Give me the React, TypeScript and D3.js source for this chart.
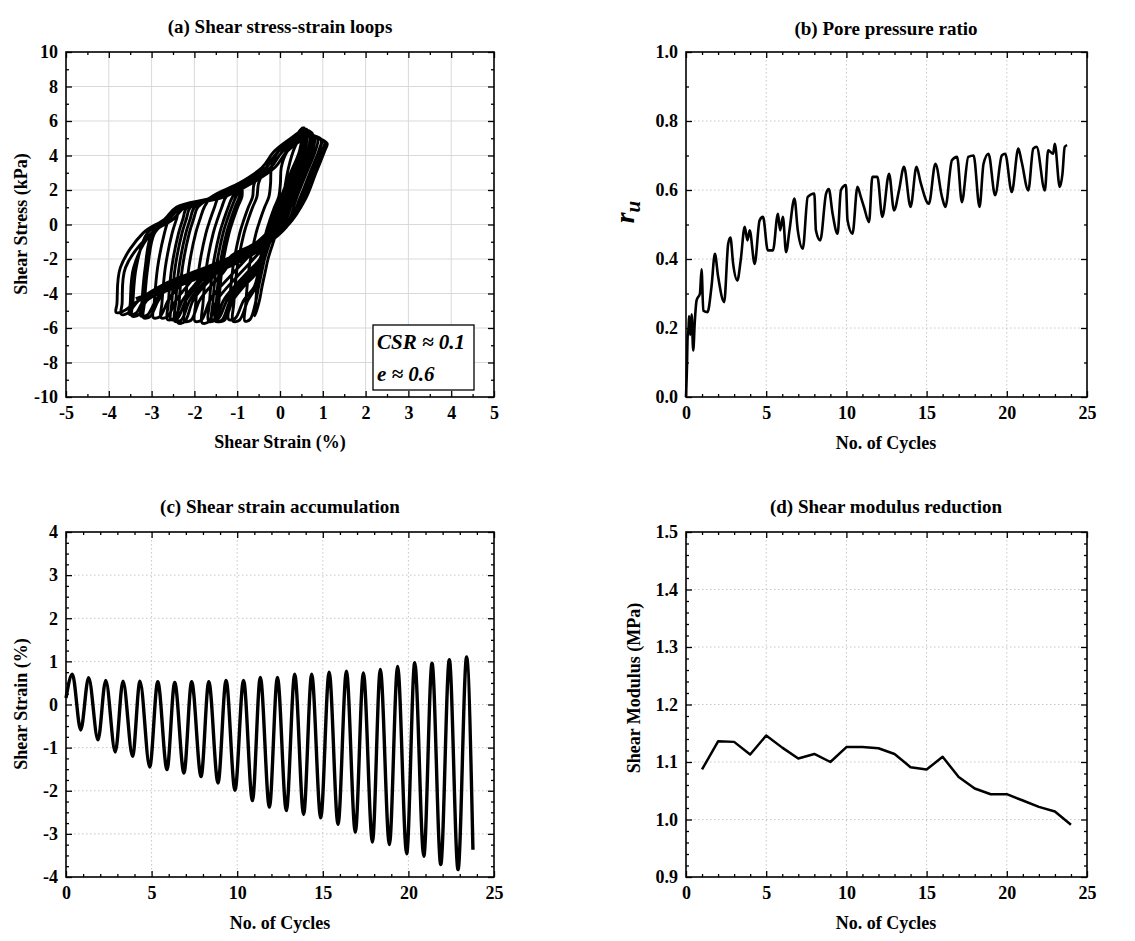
import React, { useRef, useEffect } from 'react';
import * as d3 from 'd3';

const FONT = '"Liberation Serif", "Times New Roman", serif';

// (a) stress-strain loops, [shear strain %, shear stress kPa], one row per loading cycle
const loopsEarly: [number, number][] = [
  [0, 0], [0.08, 1.6], [0.2, 3.3], [0.35, 4.5], [0.55, 5.3], [0.7, 5.3], [0.65, 4.3], [0.44, 3.0], [0.2, 1.5], [-0.02, 0], [-0.18, -1.2], [-0.28, -2.0], [-0.35, -2.8], [-0.42, -3.6], [-0.48, -4.4], [-0.59, -5.3],
  [-0.57, -4.6], [-0.49, -2.5], [-0.33, -0.5], [-0.23, 0.3], [-0.13, 1.0], [-0.03, 1.6], [0.01, 2.4], [0.03, 3.3], [0.16, 4.2], [0.41, 4.9], [0.55, 5.5], [0.62, 5.5], [0.57, 4.3], [0.36, 3.0], [0.12, 1.5], [-0.1, 0], [-0.26, -1.2], [-0.36, -2.0], [-0.43, -2.8], [-0.5, -3.6], [-0.56, -4.4], [-0.7, -5.5], [-0.82, -5.6],
  [-0.8, -4.6], [-0.72, -2.5], [-0.56, -0.5], [-0.46, 0.3], [-0.36, 1.0], [-0.26, 1.6], [-0.22, 2.4], [-0.2, 3.3], [-0.05, 4.2], [0.3, 4.9], [0.56, 5.6], [0.51, 4.3], [0.3, 3.0], [0.06, 1.5], [-0.16, 0], [-0.32, -1.2], [-0.42, -2.0], [-0.49, -2.8], [-0.56, -3.6], [-0.75, -4.4], [-0.95, -5.55], [-1.1, -5.6],
  [-1.08, -4.6], [-1.0, -2.5], [-0.84, -0.5], [-0.74, 0.3], [-0.64, 1.0], [-0.54, 1.6], [-0.5, 2.4], [-0.32, 3.3], [-0.05, 4.2], [0.3, 4.9], [0.54, 5.5], [0.49, 4.3], [0.28, 3.0], [0.04, 1.5], [-0.18, 0], [-0.34, -1.2], [-0.44, -2.0], [-0.51, -2.8], [-0.6, -3.6], [-0.85, -4.4], [-1.05, -5.45], [-1.2, -5.5],
  [-1.18, -4.6], [-1.1, -2.5], [-0.94, -0.5], [-0.84, 0.3], [-0.74, 1.0], [-0.64, 1.6], [-0.6, 2.4], [-0.32, 3.3], [-0.05, 4.2], [0.3, 4.9], [0.54, 5.6], [0.49, 4.3], [0.28, 3.0], [0.04, 1.5], [-0.18, 0], [-0.34, -1.2], [-0.44, -2.0], [-0.55, -2.8], [-0.85, -3.6], [-1.1, -4.4], [-1.3, -5.55], [-1.45, -5.6],
  [-1.43, -4.6], [-1.35, -2.5], [-1.19, -0.5], [-1.09, 0.3], [-0.99, 1.0], [-0.89, 1.6], [-0.85, 2.4], [-0.32, 3.3], [-0.05, 4.2], [0.3, 4.9], [0.53, 5.5], [0.48, 4.3], [0.27, 3.0], [0.03, 1.5], [-0.19, 0], [-0.35, -1.2], [-0.45, -2.0], [-0.61, -2.8], [-0.91, -3.6], [-1.16, -4.4], [-1.36, -5.55], [-1.51, -5.6],
  [-1.49, -4.6], [-1.41, -2.5], [-1.25, -0.5], [-1.15, 0.3], [-1.05, 1.0], [-0.95, 1.6], [-0.85, 2.4], [-0.32, 3.3], [-0.05, 4.2], [0.3, 4.9], [0.51, 5.5], [0.46, 4.3], [0.25, 3.0], [0.01, 1.5], [-0.21, 0], [-0.37, -1.2], [-0.47, -2.0], [-0.69, -2.8], [-0.99, -3.6], [-1.24, -4.4], [-1.44, -5.45], [-1.59, -5.5],
  [-1.57, -4.6], [-1.49, -2.5], [-1.33, -0.5], [-1.23, 0.3], [-1.13, 1.0], [-1.03, 1.6], [-0.85, 2.4], [-0.32, 3.3], [-0.05, 4.2], [0.3, 4.9], [0.53, 5.6], [0.48, 4.3], [0.27, 3.0], [0.03, 1.5], [-0.19, 0], [-0.35, -1.2], [-0.47, -2.0], [-0.77, -2.8], [-1.07, -3.6], [-1.32, -4.4], [-1.52, -5.55], [-1.67, -5.6],
];

const loopsMid: [number, number][] = [
  [-1.65, -4.6], [-1.57, -2.5], [-1.41, -0.5], [-1.31, 0.3], [-1.21, 1.0], [-1.11, 1.6], [-0.85, 2.4], [-0.32, 3.3], [-0.05, 4.2], [0.3, 4.9], [0.53, 5.5], [0.48, 4.3], [0.27, 3.0], [0.03, 1.5], [-0.19, 0], [-0.35, -1.2], [-0.62, -2.0], [-0.92, -2.8], [-1.22, -3.6], [-1.47, -4.4], [-1.67, -5.65], [-1.82, -5.7],
  [-1.8, -4.6], [-1.72, -2.5], [-1.56, -0.5], [-1.46, 0.3], [-1.36, 1.0], [-1.26, 1.6], [-0.85, 2.4], [-0.32, 3.3], [-0.05, 4.2], [0.3, 4.9], [0.56, 5.6], [0.51, 4.3], [0.3, 3.0], [0.06, 1.5], [-0.16, 0], [-0.49, -1.2], [-0.79, -2.0], [-1.09, -2.8], [-1.39, -3.6], [-1.64, -4.4], [-1.84, -5.55], [-1.99, -5.6],
  [-1.97, -4.6], [-1.89, -2.5], [-1.73, -0.5], [-1.63, 0.3], [-1.53, 1.0], [-1.43, 1.6], [-0.85, 2.4], [-0.32, 3.3], [-0.05, 4.2], [0.3, 4.9], [0.56, 5.5], [0.51, 4.3], [0.3, 3.0], [0.06, 1.5], [-0.16, 0], [-0.5, -0.95], [-1.03, -1.8], [-1.33, -2.8], [-1.63, -3.6], [-1.88, -4.4], [-2.08, -5.55], [-2.23, -5.6],
  [-2.21, -4.6], [-2.13, -2.5], [-1.97, -0.5], [-1.87, 0.3], [-1.77, 1.0], [-1.6, 1.6], [-0.95, 2.4], [-0.42, 3.3], [-0.15, 4.2], [0.2, 4.9], [0.55, 5.5], [0.63, 5.5], [0.58, 4.3], [0.37, 3.0], [0.13, 1.5], [-0.09, 0], [-0.5, -1.0], [-1.1, -1.75], [-1.48, -2.8], [-1.78, -3.6], [-2.03, -4.4], [-2.23, -5.65], [-2.38, -5.7],
  [-2.36, -4.6], [-2.28, -2.5], [-2.12, -0.5], [-2.02, 0.3], [-1.92, 1.0], [-1.6, 1.6], [-0.95, 2.4], [-0.42, 3.3], [-0.15, 4.2], [0.2, 4.9], [0.55, 5.45], [0.63, 5.4], [0.58, 4.3], [0.37, 3.0], [0.13, 1.5], [-0.09, 0], [-0.5, -0.95], [-1.1, -1.8], [-1.56, -2.8], [-1.86, -3.6], [-2.11, -4.4], [-2.31, -5.55], [-2.46, -5.6],
  [-2.44, -4.6], [-2.36, -2.5], [-2.2, -0.5], [-2.1, 0.3], [-2.0, 1.0], [-1.6, 1.6], [-0.95, 2.4], [-0.42, 3.3], [-0.15, 4.2], [0.2, 4.9], [0.55, 5.45], [0.7, 5.4], [0.65, 4.3], [0.44, 3.0], [0.2, 1.5], [-0.02, 0], [-0.5, -1.2], [-1.1, -2.0], [-1.65, -2.8], [-1.95, -3.6], [-2.2, -4.4], [-2.4, -5.45], [-2.55, -5.5],
  [-2.53, -4.6], [-2.45, -2.5], [-2.29, -0.5], [-2.19, 0.3], [-2.09, 1.0], [-1.5, 1.6], [-0.85, 2.4], [-0.32, 3.3], [-0.05, 4.2], [0.3, 4.9], [0.55, 5.4], [0.7, 5.3], [0.65, 4.3], [0.44, 3.0], [0.2, 1.5], [-0.02, 0], [-0.5, -1.2], [-1.1, -2.0], [-1.73, -2.8], [-2.03, -3.6], [-2.28, -4.4], [-2.48, -5.45], [-2.63, -5.5],
  [-2.61, -4.6], [-2.53, -2.5], [-2.37, -0.5], [-2.27, 0.3], [-2.17, 1.0], [-1.5, 1.6], [-0.85, 2.4], [-0.32, 3.3], [-0.05, 4.2], [0.3, 4.9], [0.55, 5.4], [0.75, 5.3], [0.7, 4.3], [0.49, 3.0], [0.25, 1.5], [0.03, 0], [-0.5, -1.2], [-1.1, -2.0], [-1.88, -2.8], [-2.18, -3.6], [-2.43, -4.4], [-2.63, -5.35], [-2.78, -5.4],
];

const loopsLate: [number, number][] = [
  [-2.76, -4.6], [-2.68, -2.5], [-2.52, -0.5], [-2.42, 0.3], [-2.32, 1.0], [-1.5, 1.6], [-0.85, 2.4], [-0.32, 3.3], [-0.05, 4.2], [0.3, 4.9], [0.55, 5.35], [0.77, 5.2], [0.72, 4.3], [0.51, 3.0], [0.27, 1.5], [0.05, 0], [-0.5, -1.2], [-1.1, -2.0], [-1.9, -2.8], [-2.36, -3.6], [-2.61, -4.4], [-2.81, -5.35], [-2.96, -5.4],
  [-2.94, -4.6], [-2.86, -2.5], [-2.7, -0.5], [-2.6, 0.3], [-2.42, 1.0], [-1.5, 1.6], [-0.85, 2.4], [-0.32, 3.3], [-0.05, 4.2], [0.3, 4.9], [0.55, 5.4], [0.73, 5.3], [0.68, 4.3], [0.47, 3.0], [0.23, 1.5], [0.01, 0], [-0.5, -1.45], [-1.1, -2.3], [-1.9, -3.05], [-2.59, -3.6], [-2.84, -4.4], [-3.04, -5.35], [-3.19, -5.4],
  [-3.17, -4.6], [-3.09, -2.5], [-2.93, -0.5], [-2.6, 0.3], [-2.32, 1.0], [-1.4, 1.6], [-0.75, 2.4], [-0.22, 3.3], [0.05, 4.2], [0.4, 4.9], [0.55, 5.3], [0.81, 5.1], [0.76, 4.3], [0.55, 3.0], [0.31, 1.5], [0.09, 0], [-0.5, -1.5], [-1.1, -2.35], [-1.9, -3.1], [-2.65, -3.6], [-2.9, -4.4], [-3.1, -5.25], [-3.25, -5.3],
  [-3.23, -4.6], [-3.15, -2.5], [-2.99, -0.5], [-2.6, 0.3], [-2.32, 1.0], [-1.4, 1.6], [-0.75, 2.4], [-0.22, 3.3], [0.05, 4.2], [0.4, 4.9], [0.6, 5.25], [0.88, 5.0], [0.83, 4.3], [0.62, 3.0], [0.38, 1.5], [0.16, 0], [-0.5, -1.4], [-1.1, -2.25], [-1.9, -3.05], [-2.7, -3.85], [-3.11, -4.4], [-3.31, -5.25], [-3.46, -5.3],
  [-3.44, -4.6], [-3.36, -2.5], [-3.1, -0.5], [-2.6, 0.3], [-2.32, 1.0], [-1.4, 1.6], [-0.75, 2.4], [-0.22, 3.3], [0.05, 4.2], [0.4, 4.9], [0.6, 5.2], [0.97, 4.9], [0.92, 4.3], [0.71, 3.0], [0.47, 1.5], [0.2, 0], [-0.5, -1.5], [-1.1, -2.3], [-1.9, -3.1], [-2.7, -3.9], [-3.17, -4.4], [-3.37, -5.15], [-3.52, -5.2],
  [-3.5, -4.6], [-3.42, -2.5], [-3.0, -0.5], [-2.5, 0.3], [-2.22, 1.0], [-1.3, 1.6], [-0.65, 2.4], [-0.12, 3.3], [0.15, 4.2], [0.5, 4.9], [0.65, 5.15], [0.96, 4.9], [0.91, 4.3], [0.7, 3.0], [0.46, 1.5], [0.2, 0], [-0.5, -1.1], [-1.1, -1.85], [-1.9, -2.65], [-2.7, -3.45], [-3.3, -4.4], [-3.56, -5.15], [-3.71, -5.2],
  [-3.69, -4.6], [-3.61, -2.5], [-3.0, -0.5], [-2.5, 0.3], [-2.22, 1.0], [-1.3, 1.6], [-0.65, 2.4], [-0.12, 3.3], [0.15, 4.2], [0.5, 4.9], [0.65, 5.1], [1.04, 4.8], [0.99, 4.3], [0.78, 3.0], [0.54, 1.5], [0.2, 0], [-0.5, -1.2], [-1.1, -2.0], [-1.9, -2.8], [-2.7, -3.6], [-3.3, -4.4], [-3.68, -5.05], [-3.83, -5.1],
  [-3.81, -4.6], [-3.73, -2.5], [-3.2, -0.5], [-2.7, 0.3], [-2.42, 1.0], [-1.5, 1.6], [-0.85, 2.4], [-0.32, 3.3], [-0.05, 4.2], [0.3, 4.9], [0.55, 5.2], [1.1, 4.7], [1.05, 4.3], [0.84, 3.0], [0.6, 1.5], [0.2, 0], [-0.5, -1.3], [-1.1, -2.1], [-1.9, -2.9], [-2.7, -3.7], [-3.37, -4.3],
];

// (b) pore pressure ratio vs number of cycles
const ruCycles = [0, 0.06, 0.1, 0.16, 0.19, 0.27, 0.35, 0.45, 0.55, 0.66, 0.87, 0.97, 1.08, 1.34, 1.59, 1.8, 2.0, 2.38, 2.63, 2.77, 2.94, 3.2, 3.41, 3.66, 3.83, 3.97, 4.28, 4.59, 4.8, 5.1, 5.42, 5.73, 5.87, 6.04, 6.24, 6.45, 6.76, 6.97, 7.28, 7.59, 8.0, 8.1, 8.37, 8.73, 8.9, 9.14, 9.45, 9.66, 9.97, 10.07, 10.38, 10.69, 10.9, 11.1, 11.41, 11.62, 11.93, 12.24, 12.66, 12.97, 13.28, 13.59, 14.0, 14.37, 14.62, 15.14, 15.55, 15.96, 16.17, 16.58, 16.9, 17.2, 17.6, 17.93, 18.3, 18.55, 18.86, 19.27, 19.69, 19.9, 20.31, 20.72, 20.93, 21.34, 21.65, 21.86, 22.37, 22.58, 22.89, 22.99, 23.3, 23.47, 23.61, 23.76];
const ruValues = [0, 0.087, 0.174, 0.2, 0.235, 0.18, 0.24, 0.135, 0.22, 0.28, 0.3, 0.37, 0.25, 0.246, 0.32, 0.415, 0.35, 0.275, 0.444, 0.462, 0.386, 0.338, 0.396, 0.493, 0.454, 0.483, 0.386, 0.512, 0.522, 0.425, 0.425, 0.531, 0.483, 0.522, 0.42, 0.483, 0.575, 0.483, 0.43, 0.58, 0.59, 0.483, 0.454, 0.589, 0.603, 0.531, 0.473, 0.6, 0.614, 0.512, 0.473, 0.609, 0.58, 0.55, 0.507, 0.638, 0.638, 0.522, 0.647, 0.541, 0.599, 0.667, 0.551, 0.667, 0.623, 0.56, 0.676, 0.58, 0.551, 0.686, 0.696, 0.565, 0.696, 0.7, 0.551, 0.676, 0.705, 0.585, 0.7, 0.705, 0.594, 0.72, 0.681, 0.599, 0.72, 0.725, 0.599, 0.715, 0.705, 0.734, 0.609, 0.647, 0.725, 0.73];

// (c) shear strain peaks and troughs vs number of cycles
const strainCycles = [0, 0.37, 0.86, 1.32, 1.87, 2.32, 2.88, 3.33, 3.89, 4.32, 4.89, 5.36, 5.9, 6.35, 6.89, 7.34, 7.89, 8.34, 8.88, 9.35, 9.87, 10.37, 10.89, 11.35, 11.88, 12.35, 12.87, 13.36, 13.88, 14.35, 14.88, 15.37, 15.89, 16.38, 16.9, 17.37, 17.9, 18.36, 18.89, 19.37, 19.9, 20.37, 20.9, 21.38, 21.89, 22.39, 22.9, 23.4, 23.77];
const strainValues = [0.15, 0.7, -0.59, 0.62, -0.82, 0.56, -1.1, 0.54, -1.2, 0.54, -1.45, 0.53, -1.51, 0.51, -1.59, 0.53, -1.67, 0.53, -1.82, 0.56, -1.99, 0.56, -2.23, 0.63, -2.38, 0.63, -2.46, 0.7, -2.55, 0.7, -2.63, 0.75, -2.78, 0.77, -2.96, 0.73, -3.19, 0.81, -3.25, 0.88, -3.46, 0.97, -3.52, 0.96, -3.71, 1.04, -3.83, 1.1, -3.37];

// (d) shear modulus per cycle
const modCycles = [1, 2, 3, 4, 5, 6, 7, 8, 9, 10, 11, 12, 13, 14, 15, 16, 17, 18, 19, 20, 21, 22, 23, 24];
const modValues = [1.087, 1.136, 1.135, 1.113, 1.146, 1.125, 1.106, 1.114, 1.1, 1.126, 1.126, 1.124, 1.114, 1.091, 1.087, 1.109, 1.074, 1.054, 1.044, 1.044, 1.033, 1.022, 1.014, 0.991];

// tick values
const strainTicksA = [-5, -4, -3, -2, -1, 0, 1, 2, 3, 4, 5];
const stressTicksA = [-10, -8, -6, -4, -2, 0, 2, 4, 6, 8, 10];
const cycleTicks = [0, 5, 10, 15, 20, 25];
const ruTicks = [0, 0.2, 0.4, 0.6, 0.8, 1.0];
const strainTicksC = [-4, -3, -2, -1, 0, 1, 2, 3, 4];
const modTicks = [0.9, 1.0, 1.1, 1.2, 1.3, 1.4, 1.5];

const titles = ['(a) Shear stress-strain loops', '(b) Pore pressure ratio', '(c) Shear strain accumulation', '(d) Shear modulus reduction'];

function minors(major: number[], step: number) {
  const lo = major[0], hi = major[major.length - 1];
  return d3.range(lo, hi + step / 2, step).filter(v => !major.some(m => Math.abs(m - v) < step / 10));
}

function panel(svg, box, xDom, yDom, o) {
  const w = box.right - box.left;
  const h = box.bottom - box.top;
  const x = d3.scaleLinear().domain(xDom).range([0, w]);
  const y = d3.scaleLinear().domain(yDom).range([h, 0]);
  const g = svg.append('g').attr('transform', `translate(${box.left},${box.top})`);
  const inside = (v, dom) => v > dom[0] + 1e-9 && v < dom[1] - 1e-9;

  // grid
  const gridColor = o.solidGrid ? '#d9d9d9' : '#c6c6c6';
  const dash = o.solidGrid ? null : '1.5,2.5';
  g.append('g').selectAll('line').data(o.xTicks.filter(v => inside(v, xDom))).join('line')
    .attr('x1', d => x(d)).attr('x2', d => x(d)).attr('y1', 0).attr('y2', h)
    .attr('stroke', gridColor).attr('stroke-width', 1).attr('stroke-dasharray', dash);
  g.append('g').selectAll('line').data(o.yTicks.filter(v => inside(v, yDom))).join('line')
    .attr('y1', d => y(d)).attr('y2', d => y(d)).attr('x1', 0).attr('x2', w)
    .attr('stroke', gridColor).attr('stroke-width', 1).attr('stroke-dasharray', dash);

  const none = () => '';
  const axes = g.append('g');
  axes.append('g').attr('transform', `translate(0,${h})`)
    .call(d3.axisBottom(x).tickValues(o.xTicks).tickSize(-6).tickPadding(9).tickFormat(o.xFmt));
  axes.append('g').attr('transform', `translate(0,${h})`)
    .call(d3.axisBottom(x).tickValues(o.xMinor).tickSize(-3).tickFormat(none));
  axes.append('g').call(d3.axisTop(x).tickValues(o.xTicks).tickSize(-6).tickFormat(none));
  axes.append('g').call(d3.axisTop(x).tickValues(o.xMinor).tickSize(-3).tickFormat(none));
  axes.append('g').call(d3.axisLeft(y).tickValues(o.yTicks).tickSize(-6).tickPadding(8).tickFormat(o.yFmt));
  axes.append('g').call(d3.axisLeft(y).tickValues(o.yMinor).tickSize(-3).tickFormat(none));
  axes.append('g').attr('transform', `translate(${w},0)`)
    .call(d3.axisRight(y).tickValues(o.yTicks).tickSize(-6).tickFormat(none));
  axes.append('g').attr('transform', `translate(${w},0)`)
    .call(d3.axisRight(y).tickValues(o.yMinor).tickSize(-3).tickFormat(none));
  axes.selectAll('.domain').remove();
  axes.selectAll('.tick line').attr('stroke', '#000').attr('stroke-width', 1.3);
  axes.selectAll('.tick text')
    .attr('font-family', FONT).attr('font-weight', 'bold').attr('font-size', 18).attr('fill', '#000');

  const data = g.append('g');

  g.append('rect').attr('x', 0).attr('y', 0).attr('width', w).attr('height', h)
    .attr('fill', 'none').attr('stroke', '#000').attr('stroke-width', 1.6);

  return { g: data, x, y };
}

const App = () => {
  const svgRef = useRef(null);

  useEffect(() => {
    const svg = d3.select(svgRef.current);
    svg.selectAll('*').remove();

    const txt = (x, y, s, size = 18, extra = '') => svg.append('text')
      .attr('x', x).attr('y', y).attr('text-anchor', 'middle')
      .attr('font-family', FONT).attr('font-weight', 'bold').attr('font-size', size)
      .attr('transform', extra || null).text(s);

    // (a)
    const a = panel(svg, { left: 66, top: 52, right: 494, bottom: 397 }, [-5, 5], [-10, 10], {
      xTicks: strainTicksA, xMinor: minors(strainTicksA, 0.5), yTicks: stressTicksA, yMinor: minors(stressTicksA, 1),
      xFmt: d => String(d), yFmt: d => String(d), solidGrid: true,
    });
    const loops = loopsEarly.concat(loopsMid, loopsLate);
    a.g.append('path').datum(loops)
      .attr('d', d3.line().x(d => a.x(d[0])).y(d => a.y(d[1])).curve(d3.curveCatmullRom.alpha(0.5)))
      .attr('fill', 'none').attr('stroke', '#000').attr('stroke-width', 2.9).attr('stroke-linejoin', 'round');

    // annotation box
    const ann = a.g.append('g').attr('transform', 'translate(307,273)');
    ann.append('rect').attr('width', 101).attr('height', 65).attr('fill', '#fff').attr('stroke', '#000').attr('stroke-width', 1.3);
    ann.append('text').attr('x', 4).attr('y', 24).attr('font-family', FONT).attr('font-weight', 'bold')
      .attr('font-style', 'italic').attr('font-size', 21).text('CSR ≈ 0.1');
    ann.append('text').attr('x', 4).attr('y', 56).attr('font-family', FONT).attr('font-weight', 'bold')
      .attr('font-style', 'italic').attr('font-size', 21).text('e ≈ 0.6');

    // (b)
    const b = panel(svg, { left: 686, top: 52, right: 1087, bottom: 397 }, [0, 25], [0, 1], {
      xTicks: cycleTicks, xMinor: minors(cycleTicks, 1), yTicks: ruTicks, yMinor: minors(ruTicks, 0.1),
      xFmt: d => String(d), yFmt: d => d.toFixed(1), solidGrid: false,
    });
    b.g.append('path').datum(d3.zip(ruCycles, ruValues))
      .attr('d', d3.line().x(d => b.x(d[0])).y(d => b.y(d[1])).curve(d3.curveMonotoneX))
      .attr('fill', 'none').attr('stroke', '#000').attr('stroke-width', 2.6).attr('stroke-linejoin', 'round');

    // (c)
    const c = panel(svg, { left: 66, top: 532, right: 494, bottom: 877 }, [0, 25], [-4, 4], {
      xTicks: cycleTicks, xMinor: minors(cycleTicks, 1), yTicks: strainTicksC, yMinor: minors(strainTicksC, 0.25),
      xFmt: d => String(d), yFmt: d => String(d), solidGrid: false,
    });
    c.g.append('path').datum(d3.zip(strainCycles, strainValues))
      .attr('d', d3.line().x(d => c.x(d[0])).y(d => c.y(d[1])).curve(d3.curveMonotoneX))
      .attr('fill', 'none').attr('stroke', '#000').attr('stroke-width', 3.4);

    // (d)
    const dd = panel(svg, { left: 686, top: 532, right: 1087, bottom: 877 }, [0, 25], [0.9, 1.5], {
      xTicks: cycleTicks, xMinor: minors(cycleTicks, 1), yTicks: modTicks, yMinor: minors(modTicks, 0.02),
      xFmt: d => String(d), yFmt: d => d.toFixed(1), solidGrid: false,
    });
    dd.g.append('path').datum(d3.zip(modCycles, modValues))
      .attr('d', d3.line().x(d => dd.x(d[0])).y(d => dd.y(d[1])))
      .attr('fill', 'none').attr('stroke', '#000').attr('stroke-width', 2.5).attr('stroke-linejoin', 'round');

    // titles
    txt(280, 33, titles[0], 19);
    txt(886, 35, titles[1], 19);
    txt(280, 513, titles[2], 19);
    txt(886, 513, titles[3], 19);

    // axis titles
    txt(280, 448, 'Shear Strain (%)');
    txt(886, 449, 'No. of Cycles');
    txt(280, 929, 'No. of Cycles');
    txt(886, 929, 'No. of Cycles');
    txt(0, 0, 'Shear Stress (kPa)', 18, 'translate(27,224) rotate(-90)');
    txt(0, 0, 'Shear Strain (%)', 18, 'translate(27,704) rotate(-90)');
    txt(0, 0, 'Shear Modulus (MPa)', 18, 'translate(640,688) rotate(-90)');

    const ru = svg.append('text').attr('transform', 'translate(634,212) rotate(-90)').attr('text-anchor', 'middle')
      .attr('font-family', FONT).attr('font-weight', 'bold').attr('font-style', 'italic').attr('font-size', 28);
    ru.append('tspan').text('r');
    ru.append('tspan').attr('dy', 6).attr('font-size', 21).text('u');
  }, []);

  return (
    <svg ref={svgRef} width={1135} height={941}
      style={{ position: 'absolute', left: 0, top: 0, background: '#fff' }} />
  );
};

export default App;
